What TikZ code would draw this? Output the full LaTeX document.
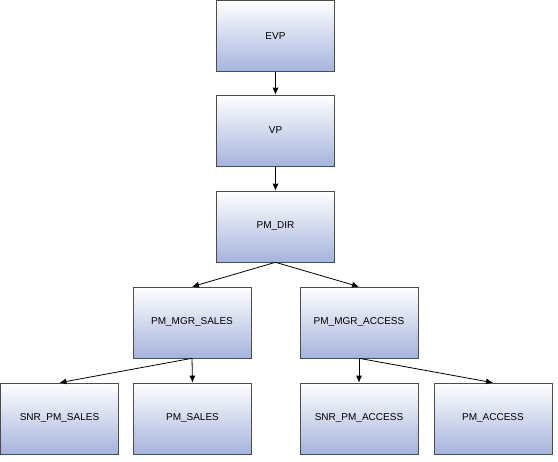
\documentclass[tikz,border=0pt]{standalone}
\usepackage{fontspec}
\setmainfont{Liberation Sans}
\usetikzlibrary{arrows.meta}
\begin{document}
\begin{tikzpicture}[x=1pt,y=-1pt,
  box/.style={draw=black!70,line width=0.6pt,top color=white,bottom color={rgb,255:red,165;green,180;blue,220},minimum width=118pt,minimum height=71pt,inner sep=0pt,font=\fontsize{10}{12}\selectfont},
  arr/.style={-{Latex[length=7pt,width=6pt]},line width=0.8pt}]
\useasboundingbox (0,0) rectangle (558,462);
\node[box] (evp) at (275.5,36) {EVP};
\node[box] (vp) at (275.5,130.5) {VP};
\node[box] (dir) at (275.5,226.5) {PM\_DIR};
\node[box] (ms) at (192,322.5) {PM\_MGR\_SALES};
\node[box] (ma) at (359,322.5) {PM\_MGR\_ACCESS};
\node[box] (sps) at (59.5,418.5) {SNR\_PM\_SALES};
\node[box] (ps) at (192.5,418.5) {PM\_SALES};
\node[box] (spa) at (359,418.5) {SNR\_PM\_ACCESS};
\node[box] (pa) at (493,418.5) {PM\_ACCESS};
\draw[arr] (evp) -- (vp);
\draw[arr] (vp) -- (dir);
\draw[arr] (dir.south) -- (ms.north);
\draw[arr] (dir.south) -- (ma.north);
\draw[arr] (ms.south) -- (sps.north);
\draw[arr] (ms.south) -- (ps.north);
\draw[arr] (ma.south) -- (spa.north);
\draw[arr] (ma.south) -- (pa.north);
\end{tikzpicture}
\end{document}
